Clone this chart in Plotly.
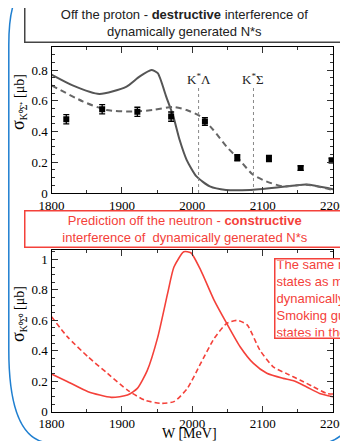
import plotly.graph_objects as go

# page body has an 8px margin: figure occupies page pixels 8..348 x 8..441
OFF = 8
W_W = 348 - OFF
H_H = 441 - OFF

# ---------------- data ----------------
# top panel: proton K0 Sigma+
w_p_solid = [1800, 1830, 1868, 1906, 1925, 1942, 1951, 1963, 1973, 1982, 1992, 2006, 2025, 2048, 2082, 2129, 2162, 2200]
s_p_solid = [0.77, 0.70, 0.644, 0.69, 0.757, 0.80, 0.78, 0.627, 0.50, 0.346, 0.216, 0.108, 0.043, 0.02, 0.02, 0.04, 0.055, 0.025]
w_p_dash = [1800, 1845, 1878, 1916, 1944, 1973, 1992, 2011, 2030, 2049, 2067, 2086, 2105, 2129, 2162, 2200]
s_p_dash = [0.70, 0.595, 0.54, 0.53, 0.54, 0.56, 0.54, 0.50, 0.41, 0.30, 0.216, 0.12, 0.076, 0.043, 0.054, 0.02]
w_data = [1821, 1872, 1922, 1970, 2018, 2064, 2109, 2154, 2198]
s_data = [0.48, 0.545, 0.528, 0.497, 0.465, 0.23, 0.225, 0.162, 0.212]
e_data = [0.03, 0.03, 0.03, 0.03, 0.025, 0.02, 0.02, 0.015, 0.015]
thresholds = [2009, 2087]
threshold_labels = ["K<sup>*</sup>Λ", "K<sup>*</sup>Σ"]
threshold_top = 0.69

# bottom panel: neutron K0 Sigma0 prediction
w_n_solid = [1800, 1823, 1852, 1885, 1908, 1922, 1936, 1951, 1965, 1974, 1988, 1998, 2012, 2031, 2049, 2068, 2087, 2106, 2129, 2144, 2162, 2181, 2200]
s_n_solid = [0.247, 0.197, 0.131, 0.094, 0.109, 0.153, 0.27, 0.49, 0.777, 0.95, 1.05, 1.044, 0.93, 0.733, 0.58, 0.427, 0.317, 0.252, 0.219, 0.203, 0.164, 0.12, 0.098]
w_n_dash = [1800, 1823, 1852, 1880, 1908, 1932, 1955, 1974, 1993, 2012, 2031, 2049, 2064, 2078, 2096, 2115, 2134, 2153, 2172, 2191, 2200]
s_n_dash = [0.624, 0.49, 0.36, 0.25, 0.142, 0.077, 0.055, 0.066, 0.153, 0.317, 0.48, 0.58, 0.60, 0.57, 0.405, 0.295, 0.25, 0.208, 0.164, 0.12, 0.116]

x_ticks = [1800, 1900, 2000, 2100, 2200]
y_ticks_top = [0, 0.2, 0.4, 0.6, 0.8]
y_ticks_bot = [0, 0.2, 0.4, 0.6, 0.8, 1]

# ---------------- helpers (page pixel -> paper fraction) ----------------
def px(x):
    return (x - OFF) / W_W

def py(y):
    return 1 - (y - OFF) / H_H

RED = "#f4413a"
GREY = "#555555"
SERIF = "Liberation Serif, Times New Roman, serif"
SANS = "Liberation Sans, Arial, sans-serif"

fig = go.Figure()

# top panel traces
fig.add_trace(go.Scatter(x=w_p_solid, y=s_p_solid, mode="lines", line=dict(color=GREY, width=2, shape="spline", smoothing=0.6),
                         xaxis="x", yaxis="y", showlegend=False))
fig.add_trace(go.Scatter(x=w_p_dash, y=s_p_dash, mode="lines", line=dict(color="#666666", width=2, dash="6px,4px", shape="spline", smoothing=0.6),
                         xaxis="x", yaxis="y", showlegend=False))
for t in thresholds:
    fig.add_trace(go.Scatter(x=[t, t], y=[0, threshold_top], mode="lines", line=dict(color="#888888", width=1, dash="dot"),
                             xaxis="x", yaxis="y", showlegend=False))
fig.add_trace(go.Scatter(x=w_data, y=s_data, mode="markers",
                         marker=dict(symbol="square", size=6, color="black"),
                         error_y=dict(type="data", array=e_data, color="black", thickness=1.3, width=3),
                         xaxis="x", yaxis="y", showlegend=False))

# bottom panel traces
fig.add_trace(go.Scatter(x=w_n_solid, y=s_n_solid, mode="lines", line=dict(color=RED, width=1.6, shape="spline", smoothing=0.6),
                         xaxis="x2", yaxis="y2", showlegend=False))
fig.add_trace(go.Scatter(x=w_n_dash, y=s_n_dash, mode="lines", line=dict(color=RED, width=1.6, dash="5px,3px", shape="spline", smoothing=0.6),
                         xaxis="x2", yaxis="y2", showlegend=False))

xdom = [px(51.5), px(333)]

axis_common = dict(showline=True, linecolor="black", linewidth=1.3, mirror="allticks",
                   ticks="inside", ticklen=6, tickwidth=1, tickcolor="#333",
                   showgrid=False, zeroline=False, automargin=False,
                   tickfont=dict(family=SERIF, size=13, color="black"))

fig.update_layout(
    template="none",
    width=W_W, height=H_H,
    margin=dict(l=0, r=0, t=0, b=0, autoexpand=False),
    paper_bgcolor="white", plot_bgcolor="white",
    xaxis=dict(domain=xdom, range=[1800, 2200], tickvals=x_ticks, anchor="y",
               minor=dict(dtick=50, ticklen=3, ticks="inside", tickcolor="#333"), **axis_common),
    yaxis=dict(domain=[py(193), py(47)], range=[0, 0.95], tickvals=y_ticks_top, anchor="x",
               tickformat="~g", minor=dict(dtick=0.05, ticklen=3, ticks="inside", tickcolor="#333"), **axis_common),
    xaxis2=dict(domain=xdom, range=[1800, 2200], tickvals=x_ticks, anchor="y2",
                minor=dict(dtick=50, ticklen=3, ticks="inside", tickcolor="#333"), **axis_common),
    yaxis2=dict(domain=[py(411.7), py(250)], range=[0, 1.062], tickvals=y_ticks_bot, anchor="x2",
                tickformat="~g", minor=dict(dtick=0.05, ticklen=3, ticks="inside", tickcolor="#333"), **axis_common),
)

annotations = []
# threshold labels
for t, lab in zip(thresholds, threshold_labels):
    annotations.append(dict(x=t, y=0.745, xref="x", yref="y", text=lab, showarrow=False,
                            xanchor="center", yanchor="middle",
                            font=dict(family=SERIF, size=13, color="#222")))

# y-axis titles
annotations.append(dict(x=px(18), y=py(102), xref="paper", yref="paper", textangle=-90, showarrow=False,
                        xanchor="center", yanchor="middle", borderpad=0,
                        text="<span style='font-size:18px'>σ</span><sub>K⁰Σ⁺</sub> [μb]",
                        font=dict(family=SERIF, size=14, color="black")))
annotations.append(dict(x=px(18), y=py(314), xref="paper", yref="paper", textangle=-90, showarrow=False,
                        xanchor="center", yanchor="middle", borderpad=0,
                        text="<span style='font-size:18px'>σ</span><sub>K⁰Σ⁰</sub> [μb]",
                        font=dict(family=SERIF, size=14, color="black")))
# x-axis title
annotations.append(dict(x=px(189), y=py(433), xref="paper", yref="paper", showarrow=False,
                        xanchor="center", yanchor="middle", borderpad=0,
                        text="W [MeV]", font=dict(family=SERIF, size=14, color="black")))

# title boxes
annotations.append(dict(x=px(184.5), y=py(23), xref="paper", yref="paper", showarrow=False,
                        xanchor="center", yanchor="middle",
                        text="Off the proton - <b>destructive</b> interference of<br>dynamically generated N*s",
                        font=dict(family=SANS, size=13, color="#222"), width=316, height=35,
                        bordercolor="#444", borderwidth=1.5, borderpad=1, bgcolor="white"))
annotations.append(dict(x=px(185), y=py(229), xref="paper", yref="paper", showarrow=False,
                        xanchor="center", yanchor="middle",
                        text="Prediction off the neutron - <b>constructive</b><br>interference of  dynamically generated N*s",
                        font=dict(family=SANS, size=13, color=RED), width=317, height=33,
                        bordercolor=RED, borderwidth=1.5, borderpad=1, bgcolor="white"))
# side text box (clipped by window)
annotations.append(dict(x=px(274), y=py(298), xref="paper", yref="paper", showarrow=False,
                        xanchor="left", yanchor="middle", align="left",
                        text="The same mechanism<br>states as molecular<br>dynamically generated<br>Smoking gun for<br>states in the neutron",
                        font=dict(family=SANS, size=13, color=RED), width=160, height=76,
                        bordercolor=RED, borderwidth=1.5, borderpad=1, bgcolor="white"))

fig.update_layout(annotations=annotations)

# blue rounded slide frame
path = (f"M {px(18)},{py(-5)} Q {px(8.8)},{py(8)} {px(8.8)},{py(45)} "
        f"L {px(8.8)},{py(350)} Q {px(8.8)},{py(441)} {px(50)},{py(443)} "
        f"L {px(325)},{py(443)} Q {px(342)},{py(440)} {px(356)},{py(418)}")
fig.add_shape(type="path", path=path, xref="paper", yref="paper",
              line=dict(color="#1f7fd0", width=1.5), layer="below")

fig.write_html("out.html")
